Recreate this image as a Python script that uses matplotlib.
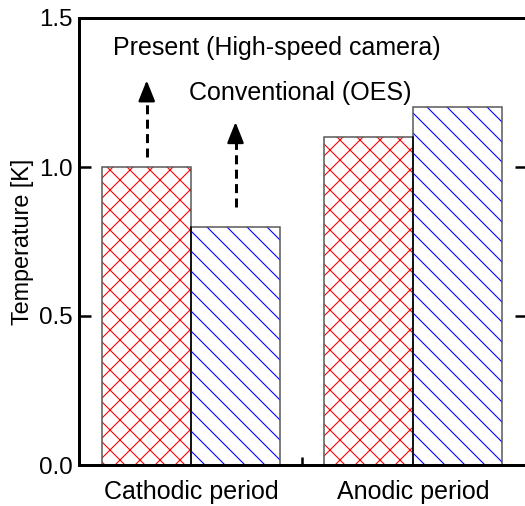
import matplotlib
matplotlib.use('Agg')
import matplotlib.pyplot as plt
import numpy as np

# ── data ─────────────────────────────────────────────────────────────────────
periods      = ['Cathodic period', 'Anodic period']
present_vals = [1.0, 1.1]     # High-speed camera
conv_vals    = [0.8, 1.2]     # OES
y_ticks      = [0.0, 0.5, 1.0, 1.5]

# annotation text + arrows (data coords)
labels       = ['Present (High-speed camera)', 'Conventional (OES)']
label_xy     = [(0.387, 1.398), (0.49, 1.247)]
arrow_x      = [-0.2, 0.2]
arrow_from   = [1.034, 0.866]
arrow_to     = [1.302, 1.162]

# ── style ────────────────────────────────────────────────────────────────────
plt.rcParams['font.family'] = ['Liberation Sans', 'DejaVu Sans']
plt.rcParams['hatch.linewidth'] = 0.65

DPI = 120
fig = plt.figure(figsize=(525 / DPI, 506 / DPI), dpi=DPI)
ax = fig.add_axes([79 / 525, 41 / 506, 448 / 525, 447 / 506])

x = np.arange(len(periods))
w = 0.4
# hatch colour follows edgecolor -> hatched layer, then grey outline on top
ax.bar(x - w / 2, present_vals, w, facecolor='white', edgecolor='red',
       lw=0, hatch='xx', zorder=2)
ax.bar(x + w / 2, conv_vals, w, facecolor='white', edgecolor='blue',
       lw=0, hatch='\\\\', zorder=2)
ax.bar(x - w / 2, present_vals, w, facecolor='none', edgecolor='#555555',
       lw=0.9, zorder=3)
ax.bar(x + w / 2, conv_vals, w, facecolor='none', edgecolor='#555555',
       lw=0.9, zorder=3)
# divider between adjacent bars
for xi, a, b in zip(x, present_vals, conv_vals):
    ax.plot([xi, xi], [0, min(a, b)], color='black', lw=0.9, zorder=4)

ax.set_xlim(-0.505, 1.513)
ax.set_ylim(0, 1.5)
ax.set_yticks(y_ticks)
ax.set_yticklabels([f'{t:.1f}' for t in y_ticks])
ax.set_xticks(x)
ax.set_xticklabels(periods)
ax.set_xticks([0.5], minor=True)
ax.set_ylabel('Temperature [K]', fontsize=14, labelpad=3)

ax.tick_params(axis='y', direction='in', length=7, width=1.5, labelsize=14.5,
               pad=4, right=True)
ax.tick_params(axis='x', which='major', length=0, labelsize=15, pad=9)
ax.tick_params(axis='x', which='minor', direction='in', length=5, width=1.5)
for sp in ax.spines.values():
    sp.set_linewidth(1.8)
    sp.set_zorder(5)

for (tx, ty), s in zip(label_xy, labels):
    ax.text(tx, ty, s, ha='center', va='center', fontsize=15)

for ax_, y0, y1 in zip(arrow_x, arrow_from, arrow_to):
    ax.plot([ax_, ax_], [y0, y1 - 0.04], color='black', lw=1.8,
            dashes=(3, 1.8), zorder=4)
    ax.annotate('', xy=(ax_, y1), xytext=(ax_, y1 - 0.05),
                arrowprops=dict(arrowstyle='-|>,head_length=0.75,head_width=0.3',
                                color='black', lw=1.5, mutation_scale=14),
                zorder=4)

plt.savefig('out.png', dpi=DPI)
